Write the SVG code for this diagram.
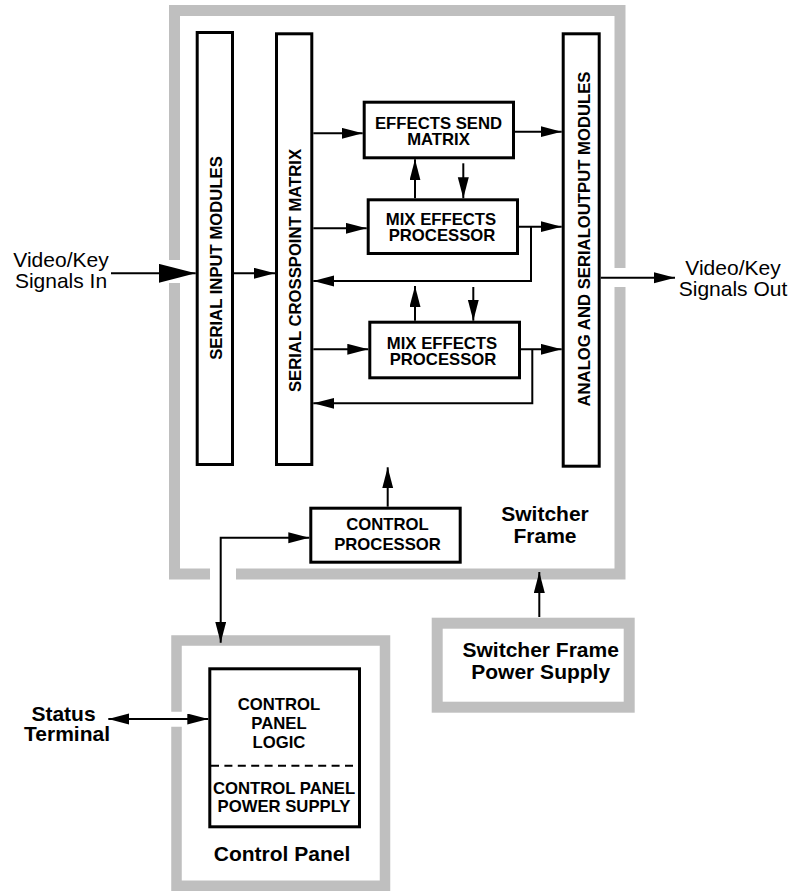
<svg xmlns="http://www.w3.org/2000/svg" width="793" height="891" viewBox="0 0 793 891">
<style>
.frame{fill:none;stroke:#bfbfbf;stroke-width:11;stroke-linecap:butt;stroke-linejoin:miter}
.box{fill:#fff;stroke:#000;stroke-width:3}
.ln{fill:none;stroke:#000;stroke-width:2}
.a{marker-end:url(#ah)}
.b{font-family:"Liberation Sans",Arial,sans-serif;font-weight:bold;font-size:16.7px;text-anchor:middle;fill:#000}
.bl{font-family:"Liberation Sans",Arial,sans-serif;font-weight:bold;font-size:21px;text-anchor:middle;fill:#000}
.n{font-family:"Liberation Sans",Arial,sans-serif;font-size:21px;text-anchor:middle;fill:#000}
</style>
<defs>
<marker id="ah" markerUnits="userSpaceOnUse" markerWidth="22" markerHeight="12" refX="21" refY="5.5" orient="auto-start-reverse"><path d="M0,0 L21,5.5 L0,11 z" fill="#000"/></marker>
<marker id="big" markerUnits="userSpaceOnUse" markerWidth="38" markerHeight="20" refX="37" refY="9.5" orient="auto"><path d="M0,0 L37,9.5 L0,19 z" fill="#000"/></marker>
</defs>
<rect width="793" height="891" fill="#fff"/>

<g id="switcher-frame">
<path class="frame" d="M174.5,260 V10.5 H620 V268 M620,287 V574 H236 M210,574 H174.5 V283"/>
<text class="bl" x="545" y="521">Switcher</text>
<text class="bl" x="545" y="542.5">Frame</text>
</g>

<g id="serial-input-modules">
<rect class="box" x="197.2" y="32.5" width="35.3" height="432"/>
<text class="b" transform="translate(222 258) rotate(-90)">SERIAL INPUT MODULES</text>
</g>

<g id="serial-crosspoint-matrix">
<rect class="box" x="276.5" y="33.8" width="35.3" height="430.7"/>
<text class="b" transform="translate(301 270.5) rotate(-90)">SERIAL CROSSPOINT MATRIX</text>
</g>

<g id="output-modules">
<rect class="box" x="563.2" y="33.8" width="36" height="432.4"/>
<text class="b" transform="translate(589.5 239) rotate(-90)">ANALOG AND SERIALOUTPUT MODULES</text>
</g>

<g id="effects-send-matrix">
<rect class="box" x="364.2" y="102.2" width="149.3" height="55.6"/>
<text class="b" x="438.5" y="129.3">EFFECTS SEND</text>
<text class="b" x="438.5" y="144.5">MATRIX</text>
</g>

<g id="mix-effects-1">
<rect class="box" x="368.2" y="199.8" width="149.3" height="53.7"/>
<text class="b" x="441" y="225">MIX EFFECTS</text>
<text class="b" x="442" y="240.7">PROCESSOR</text>
</g>

<g id="mix-effects-2">
<rect class="box" x="369.8" y="322.2" width="149.7" height="55.6"/>
<text class="b" x="442" y="348.7">MIX EFFECTS</text>
<text class="b" x="443" y="365.3">PROCESSOR</text>
</g>

<g id="control-processor">
<rect class="box" x="310.8" y="508.2" width="149.4" height="54"/>
<text class="b" x="387.5" y="530">CONTROL</text>
<text class="b" x="387.5" y="550">PROCESSOR</text>
</g>

<g id="power-supply">
<rect class="frame" x="437.2" y="623.2" width="192" height="84"/>
<text class="bl" x="540.7" y="656.7">Switcher Frame</text>
<text class="bl" x="540.7" y="679.3">Power Supply</text>
</g>

<g id="control-panel">
<path class="frame" style="stroke-width:10.5" d="M176.5,711.7 V640.5 H385 V885.7 H176.5 V726.7"/>
<rect class="box" x="209.8" y="668.8" width="149.7" height="158"/>
<line x1="211" y1="765.7" x2="358.5" y2="765.7" stroke="#000" stroke-width="2" stroke-dasharray="8 5.4"/>
<text class="b" x="279" y="710">CONTROL</text>
<text class="b" x="279" y="728.5">PANEL</text>
<text class="b" x="279" y="747.7">LOGIC</text>
<text class="b" x="284" y="794.3">CONTROL PANEL</text>
<text class="b" x="284" y="812.3">POWER SUPPLY</text>
<text class="bl" x="282" y="861">Control Panel</text>
</g>

<g id="labels">
<text class="n" x="61" y="267.3">Video/Key</text>
<text class="n" x="61" y="288">Signals In</text>
<text class="n" x="733" y="275">Video/Key</text>
<text class="n" x="733" y="295.7">Signals Out</text>
<text class="bl" x="63.5" y="720.7">Status</text>
<text class="bl" x="67" y="741">Terminal</text>
</g>

<g id="connectors">
<line class="ln" x1="111" y1="273.3" x2="195.7" y2="273.3" marker-end="url(#big)"/>
<line class="ln a" x1="234" y1="273.3" x2="275" y2="273.3"/>
<line class="ln a" x1="600.7" y1="277.7" x2="675" y2="277.7"/>
<line class="ln a" x1="313.3" y1="133.3" x2="362.7" y2="133.3"/>
<line class="ln a" x1="515" y1="131.7" x2="561.7" y2="131.7"/>
<line class="ln a" x1="415" y1="198.3" x2="415" y2="159.3"/>
<line class="ln a" x1="463.3" y1="163.3" x2="463.3" y2="198.3"/>
<line class="ln a" x1="313.3" y1="228.3" x2="366.7" y2="228.3"/>
<line class="ln a" x1="519" y1="226.7" x2="561.7" y2="226.7"/>
<polyline class="ln a" points="531,226.7 531,281 313.3,281"/>
<line class="ln a" x1="415" y1="320.7" x2="415" y2="286"/>
<line class="ln a" x1="473.3" y1="287" x2="473.3" y2="320.7"/>
<line class="ln a" x1="313.3" y1="349.3" x2="368.3" y2="349.3"/>
<line class="ln a" x1="521" y1="349.3" x2="561.7" y2="349.3"/>
<polyline class="ln a" points="532.3,349.3 532.3,403.3 313.3,403.3"/>
<line class="ln a" x1="387.7" y1="506.7" x2="387.7" y2="467.3"/>
<polyline class="ln a" points="220.7,642.7 220.7,537.7 309.3,537.7" marker-start="url(#ah)"/>
<line class="ln a" x1="539.3" y1="617" x2="539.3" y2="572"/>
<line class="ln a" x1="108.3" y1="719" x2="208.3" y2="719" marker-start="url(#ah)"/>
</g>
</svg>
